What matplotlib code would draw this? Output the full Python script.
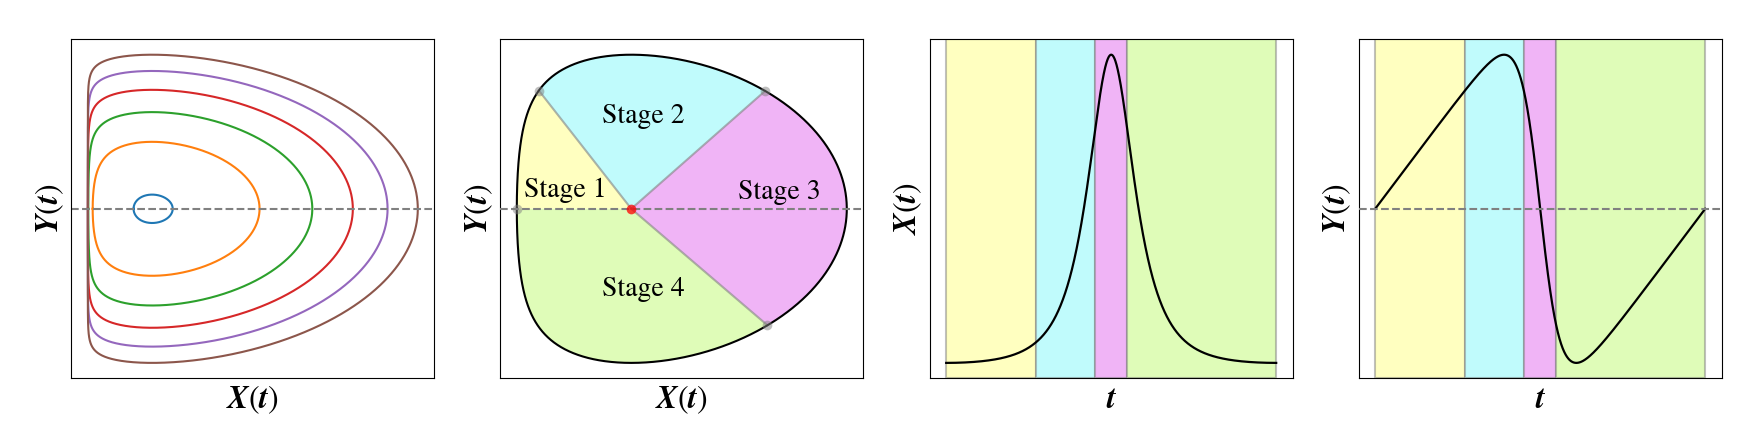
import math
import numpy as np
import matplotlib
matplotlib.use('Agg')
import matplotlib.pyplot as plt

plt.rcParams['mathtext.fontset'] = 'stix'

orbit_xmax = [1.32, 2.67, 3.49, 4.12, 4.66, 5.13]
orbit_colors = ['C0', 'C1', 'C2', 'C3', 'C4', 'C5']

# orbit used for the stage panels and where the stages end (fraction of one period)
stage_xmax = 2.77
stage_ends = [0.272, 0.4506, 0.5485, 1.0]
stage_names = ['Stage 1', 'Stage 2', 'Stage 3', 'Stage 4']
stage_colors = ['#ffffc0', '#c0fbfc', '#f0b4f6', '#dffcb8']
stage_text_pos = [(0.178, 0.536), (0.395, 0.752), (0.770, 0.529), (0.395, 0.244)]


def orbit(xmax, dt=0.001):
    g = lambda x: x * x / 2 - math.log(x)
    H = g(xmax)
    lo, hi = 1e-14, 1.0
    for _ in range(200):
        mid = math.sqrt(lo * hi)
        if g(mid) > H:
            lo = mid
        else:
            hi = mid
    u, y, t = math.log(lo), 0.0, 0.0
    f = lambda u, y: (y, 1 - math.exp(2 * u))
    ts, us, ys = [t], [u], [y]
    n = 0
    while True:
        k1 = f(u, y)
        k2 = f(u + dt / 2 * k1[0], y + dt / 2 * k1[1])
        k3 = f(u + dt / 2 * k2[0], y + dt / 2 * k2[1])
        k4 = f(u + dt * k3[0], y + dt * k3[1])
        un = u + dt / 6 * (k1[0] + 2 * k2[0] + 2 * k3[0] + k4[0])
        yn = y + dt / 6 * (k1[1] + 2 * k2[1] + 2 * k3[1] + k4[1])
        n += 1
        if n > 10 and y < 0 <= yn:
            a = -y / (yn - y)
            ts.append(t + a * dt)
            us.append(u + a * (un - u))
            ys.append(0.0)
            break
        u, y, t = un, yn, t + dt
        ts.append(t); us.append(u); ys.append(y)
    return np.array(ts), np.exp(np.array(us)), np.array(ys)


fig = plt.figure(figsize=(17.54, 4.44), dpi=100)
W, Hf = 1754.0, 444.0
lefts = [71.3, 500.3, 929.7, 1358.7]
axs = [fig.add_axes([l / W, (Hf - 378.3) / Hf, 363 / W, 339 / Hf]) for l in lefts]

lab = dict(fontsize=23)
xl = r'$\boldsymbol{X}(\boldsymbol{t})$'
yl = r'$\boldsymbol{Y}(\boldsymbol{t})$'
tl = r'$\boldsymbol{t}$'

# panel 1
ax = axs[0]
for xm, c in zip(orbit_xmax, orbit_colors):
    t, x, y = orbit(xm)
    ax.plot(x, y, color=c, lw=1.5)
ax.axhline(0, color='gray', ls='--', lw=1.5)
ax.set_xlabel(xl, **lab)
ax.set_ylabel(yl, **lab)

# stage orbit
t, x, y = orbit(stage_xmax)
T = t[-1]
bounds = [0.0] + [s * T for s in stage_ends]

# panel 2
ax = axs[1]
cx, cy = 1.0, 0.0
for k in range(4):
    ta, tb = bounds[k], bounds[k + 1]
    m = (t > ta) & (t < tb)
    px = np.concatenate([[cx, np.interp(ta, t, x)], x[m], [np.interp(tb, t, x)]])
    py = np.concatenate([[cy, np.interp(ta, t, y)], y[m], [np.interp(tb, t, y)]])
    ax.fill(px, py, color=stage_colors[k], lw=0, zorder=1)
for tb in bounds[1:4]:
    ax.plot([cx, np.interp(tb, t, x)], [cy, np.interp(tb, t, y)],
            color='gray', alpha=0.6, lw=1.5, zorder=2)
ax.plot(x, y, color='black', lw=1.5, zorder=3)
ax.axhline(0, color='gray', ls='--', lw=1.5, zorder=4)
bx = [np.interp(b, t, x) for b in bounds[:4]]
by = [np.interp(b, t, y) for b in bounds[:4]]
ax.plot(bx, by, 'o', color='gray', alpha=0.5, ms=7, mec='none', zorder=5)
ax.plot([cx], [cy], 'o', color='red', alpha=0.75, ms=7, mec='none', zorder=5)
for name, (px, py) in zip(stage_names, stage_text_pos):
    ax.text(px, py, name, transform=ax.transAxes, ha='center', va='baseline',
            fontsize=20, family='STIXGeneral', zorder=6)
ax.set_xlabel(xl, **lab)
ax.set_ylabel(yl, **lab)

# panels 3 and 4
for ax, series, ylab in [(axs[2], x, xl), (axs[3], y, yl)]:
    for k in range(4):
        ax.axvspan(bounds[k], bounds[k + 1], facecolor=stage_colors[k],
                   edgecolor=(0.5, 0.5, 0.5, 0.5), lw=1.5, zorder=0)
    ax.plot(t, series, color='black', lw=1.6, zorder=3)
    ax.set_xlabel(tl, **lab)
    ax.set_ylabel(ylab, **lab)
axs[3].axhline(0, color='gray', ls='--', lw=1.5, zorder=4)

for ax in axs:
    ax.set_xticks([])
    ax.set_yticks([])

fig.savefig('out.png', dpi=100)
